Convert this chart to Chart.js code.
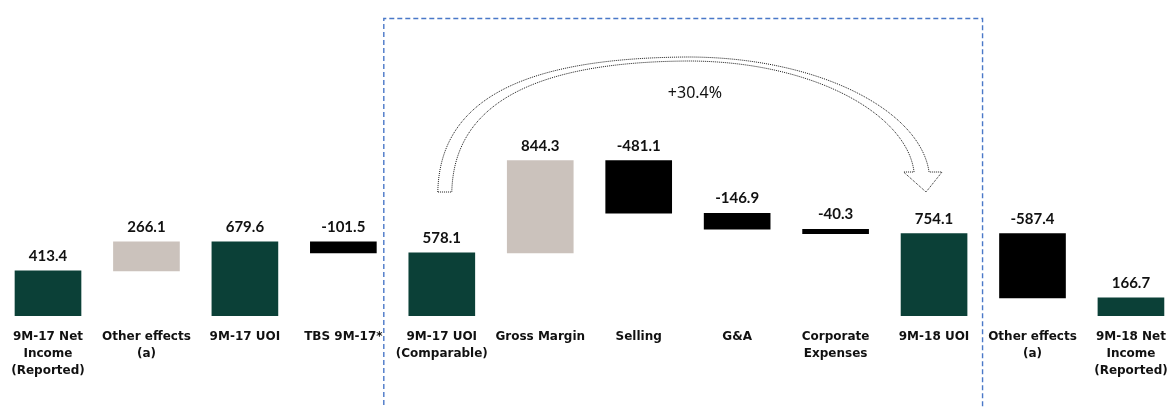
<!DOCTYPE html>
<html>
<head>
<meta charset="utf-8">
<title>9M-18 UOI bridge</title>
<script src="https://cdn.jsdelivr.net/npm/chart.js@4"></script>
<style>
    html, body { margin: 0; padding: 0; background: #fff; overflow: hidden; }
    #wrap { position: relative; width: 1172px; height: 408px; }
</style>
</head>
<body>
<div id="wrap"><canvas id="bridgeChart"></canvas></div>
<script>
// bridge steps, left to right
const categories = [
    ['9M-17 Net', 'Income', '(Reported)'],
    ['Other effects', '(a)'],
    ['9M-17 UOI'],
    ['TBS 9M-17*'],
    ['9M-17 UOI', '(Comparable)'],
    ['Gross Margin'],
    ['Selling'],
    ['G&A'],
    ['Corporate', 'Expenses'],
    ['9M-18 UOI'],
    ['Other effects', '(a)'],
    ['9M-18 Net', 'Income', '(Reported)']
];
const values = [413.4, 266.1, 679.6, -101.5, 578.1, 844.3, -481.1, -146.9, -40.3, 754.1, -587.4, 166.7];
// 'total' bars start at zero, 'step' bars float on the running sum
const kinds = ['total', 'step', 'total', 'step', 'total', 'step', 'step', 'step', 'step', 'total', 'step', 'total'];
const growthLabel = '+30.4%';

const COLORS = { total: '#0b4037', up: '#cbc2bc', down: '#000000' };

const ranges = [];
let running = 0;
values.forEach((v, i) => {
    if (kinds[i] === 'total') {
        ranges.push([0, v]);
        running = v;
    } else {
        ranges.push([running, running + v]);
        running += v;
    }
});

const barColors = values.map((v, i) => kinds[i] === 'total' ? COLORS.total : (v >= 0 ? COLORS.up : COLORS.down));

// value above each bar
const valueLabels = {
    id: 'valueLabels',
    afterDatasetsDraw(chart) {
        const ctx = chart.ctx;
        const meta = chart.getDatasetMeta(0);
        ctx.save();
        ctx.font = 'bold 15px Lato, "Liberation Sans", sans-serif';
        ctx.fillStyle = '#111';
        ctx.textAlign = 'center';
        ctx.textBaseline = 'middle';
        meta.data.forEach((bar, i) => {
            const top = Math.min(bar.y, bar.base);
            ctx.fillText(values[i].toFixed(1), bar.x, top - 15);
        });
        ctx.restore();
    }
};

// dashed frame round the operating steps and the curved growth arrow
const overlay = {
    id: 'overlay',
    afterDraw(chart) {
        const ctx = chart.ctx;
        const x = chart.scales.x;
        const top = chart.chartArea.top;
        const L = x.getPixelForValue(4);
        const R = x.getPixelForValue(9);
        const M = (L + R) / 2;

        ctx.save();
        ctx.strokeStyle = '#4a78c8';
        ctx.lineWidth = 1.4;
        ctx.setLineDash([5, 3]);
        const bx0 = L - 58, bx1 = R + 48.5, by0 = top + 18.5, by1 = chart.height + 5;
        ctx.beginPath();
        ctx.moveTo(bx0, by1);
        ctx.lineTo(bx0, by0);
        ctx.lineTo(bx1, by0);
        ctx.lineTo(bx1, by1);
        ctx.stroke();

        // hollow arrow from the comparable UOI bar to the 9M-18 UOI bar
        const yTail = top + 192, yPeak = top + 57, yWing = top + 172, yTip = top + 192;
        ctx.strokeStyle = '#1a1a1a';
        ctx.lineWidth = 1;
        ctx.setLineDash([1, 1]);
        ctx.beginPath();
        ctx.moveTo(L - 4, yTail);
        ctx.bezierCurveTo(L - 2, top + 100, L + 80, yPeak + 1, M, yPeak);
        ctx.bezierCurveTo(M + 130, yPeak, R - 14, top + 110, R - 5, yWing);
        ctx.lineTo(R + 8, yWing);
        ctx.lineTo(R - 8, yTip);
        ctx.lineTo(R - 30.5, yWing);
        ctx.lineTo(R - 20, yWing);
        ctx.bezierCurveTo(R - 27, top + 114, M + 125, yPeak + 4, M, yPeak + 4);
        ctx.bezierCurveTo(L + 90, yPeak + 5, L + 12, top + 105, L + 10, yTail);
        ctx.closePath();
        ctx.stroke();

        ctx.setLineDash([]);
        ctx.font = '16px "Noto Sans", "Liberation Sans", sans-serif';
        ctx.fillStyle = '#111';
        ctx.textAlign = 'center';
        ctx.textBaseline = 'middle';
        ctx.fillText(growthLabel, M + 7, top + 93);
        ctx.restore();
    }
};

const PX_PER_STEP = 98.45;
const FIRST_CENTER = 48;

new Chart(document.getElementById('bridgeChart'), {
    type: 'bar',
    data: {
        datasets: [{
            data: ranges.map((r, i) => ({ x: i, y: r })),
            backgroundColor: barColors,
            borderWidth: 0,
            barThickness: 66
        }]
    },
    options: {
        responsive: true,
        maintainAspectRatio: false,
        animation: false,
        layout: { padding: 0 },
        plugins: {
            legend: { display: false },
            tooltip: { enabled: false }
        },
        scales: {
            x: {
                type: 'linear',
                offset: false,
                min: -FIRST_CENTER / PX_PER_STEP,
                max: (1172 - FIRST_CENTER) / PX_PER_STEP,
                grid: { display: false, drawTicks: false },
                border: { display: false },
                afterBuildTicks(axis) {
                    axis.ticks = categories.map((_, i) => ({ value: i }));
                },
                afterFit(axis) {
                    // full width plot, labels may run to the edge
                    axis.height = 92;
                    axis.paddingLeft = 0;
                    axis.paddingRight = 0;
                },
                ticks: {
                    autoSkip: false,
                    maxRotation: 0,
                    padding: 12,
                    color: '#111',
                    font: { family: '"DejaVu Sans", sans-serif', size: 12, weight: 'bold', lineHeight: 1.42 },
                    callback: (v) => categories[v]
                }
            },
            y: {
                display: false,
                min: 0,
                max: 2894
            }
        }
    },
    plugins: [valueLabels, overlay]
});
</script>
</body>
</html>
